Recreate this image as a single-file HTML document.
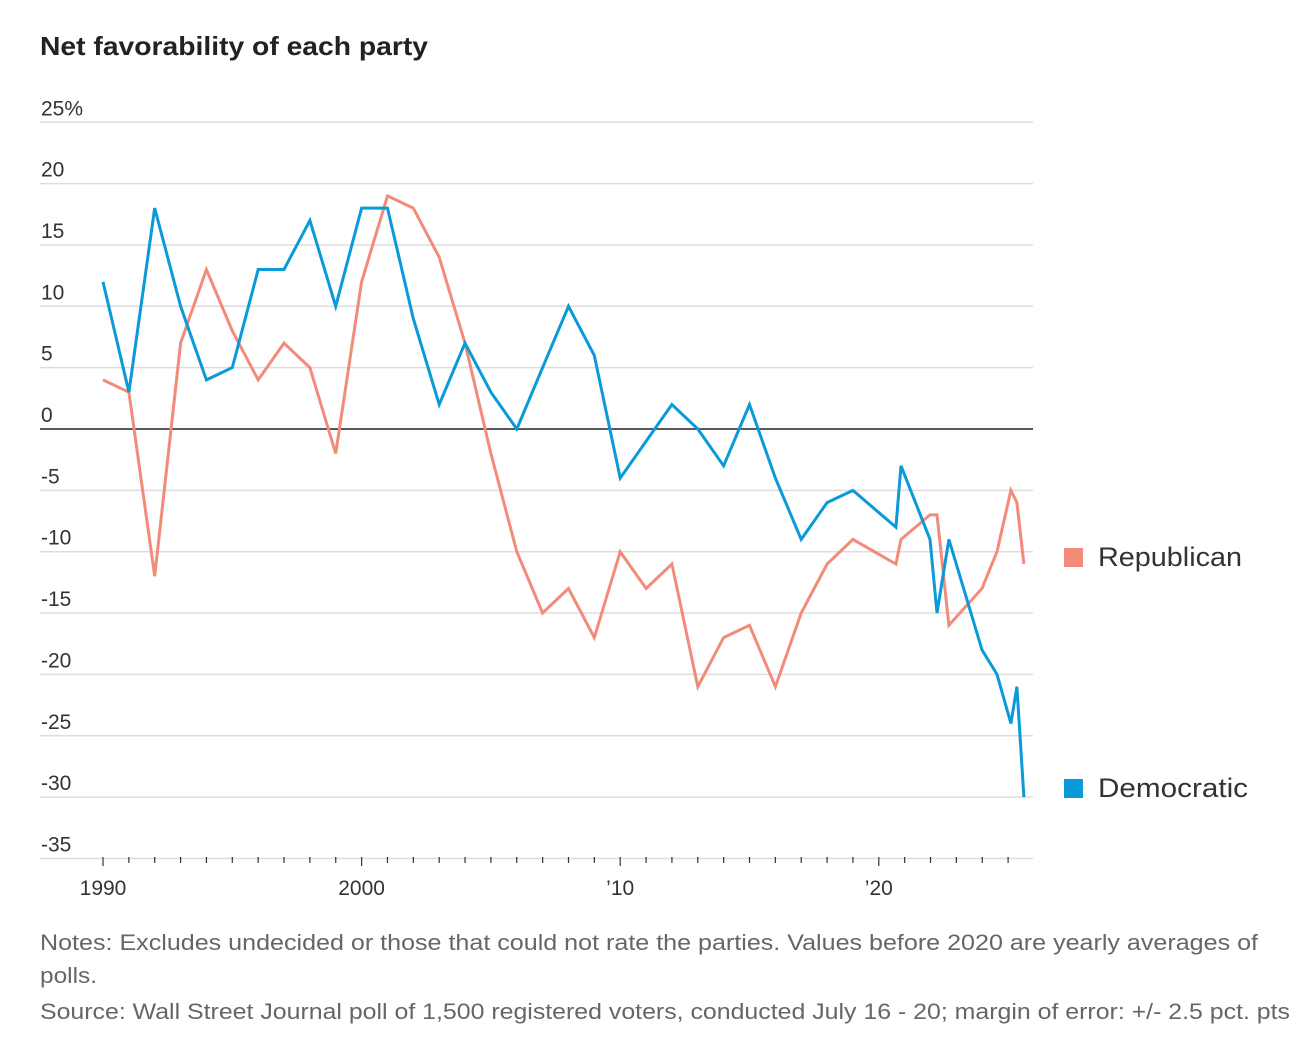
<!DOCTYPE html>
<html><head><meta charset="utf-8"><style>
body{margin:0;background:#fff;width:1314px;height:1038px;overflow:hidden;font-family:"Liberation Sans",sans-serif;}
svg text{font-family:"Liberation Sans",sans-serif;}
</style></head><body>
<svg id="chart" width="1314" height="1038" xmlns="http://www.w3.org/2000/svg">
<text x="40" y="55" font-size="26" font-weight="bold" fill="#222" textLength="388" lengthAdjust="spacingAndGlyphs">Net favorability of each party</text>
<g id="grid"></g><g id="axes"></g><g id="lines"></g>
<g>
<rect x="1064" y="548" width="19" height="19" fill="#f28b79"/>
<text x="1098" y="566" font-size="27" fill="#333" textLength="144" lengthAdjust="spacingAndGlyphs">Republican</text>
<rect x="1064" y="779" width="19" height="19" fill="#0b9ad9"/>
<text x="1098" y="797" font-size="27" fill="#333" textLength="150" lengthAdjust="spacingAndGlyphs">Democratic</text>
</g>
<text font-size="22" fill="#666"><tspan x="40" y="950" textLength="1218" lengthAdjust="spacingAndGlyphs">Notes: Excludes undecided or those that could not rate the parties. Values before 2020 are yearly averages of</tspan><tspan x="40" y="983" textLength="57" lengthAdjust="spacingAndGlyphs">polls.</tspan><tspan x="40" y="1019" textLength="1250" lengthAdjust="spacingAndGlyphs">Source: Wall Street Journal poll of 1,500 registered voters, conducted July 16 - 20; margin of error: +/- 2.5 pct. pts</tspan></text>
</svg>
<script>
const yTicks=[25,20,15,10,5,0,-5,-10,-15,-20,-25,-30,-35];
const yTickLabels=["25%","20","15","10","5","0","-5","-10","-15","-20","-25","-30","-35"];
const xTicks=[1990,2000,2010,2020];
const xTickLabels=["1990","2000","\u201910","\u201920"];
const demYears=[1990,1991,1992,1993,1994,1995,1996,1997,1998,1999,2000,2001,2002,2003,2004,2005,2006,2007,2008,2009,2010,2011,2012,2013,2014,2015,2016,2017,2018,2019,2020.66,2020.86,2021.98,2022.25,2022.71,2023.99,2024.57,2025.11,2025.34,2025.61];
const demValues=[12,3,18,10,4,5,13,13,17,10,18,18,9,2,7,3,0,5,10,6,-4,-1,2,0,-3,2,-4,-9,-6,-5,-8,-3,-9,-15,-9,-18,-20,-24,-21,-30];
const repYears=demYears;
const repValues=[4,3,-12,7,13,8,4,7,5,-2,12,19,18,14,7,-2,-10,-15,-13,-17,-10,-13,-11,-21,-17,-16,-21,-15,-11,-9,-11,-9,-7,-7,-16,-13,-10,-5,-6,-11];
const NS="http://www.w3.org/2000/svg";
const X=y=>103+(y-1990)*25.86;
const Y=v=>429-v*12.27;
function mk(tag,attrs,parent){const e=document.createElementNS(NS,tag);for(const k in attrs)e.setAttribute(k,attrs[k]);parent.appendChild(e);return e;}
const grid=document.getElementById('grid'),axes=document.getElementById('axes'),lines=document.getElementById('lines');
yTicks.forEach((v,i)=>{
 const l=mk('line',{x1:40,x2:1033,y1:Y(v),y2:Y(v),stroke:v===0?'#222':'#ddd','stroke-width':1.5},grid);
 
 
 const t=mk('text',{x:41,y:Y(v)-7,'font-size':21,fill:'#333'},axes);
 t.textContent=yTickLabels[i];
 
 
});
for(let yr=1990;yr<=2025;yr++){
 const tk=mk('line',{x1:X(yr),x2:X(yr),y1:857,y2:yr%10===0?866:863,stroke:'#333','stroke-width':1.2},axes);
 
 
}
xTicks.forEach((yr,i)=>{
 const t=mk('text',{x:X(yr),y:895,'font-size':21,fill:'#333','text-anchor':'middle'},axes);
 t.textContent=xTickLabels[i];
 
 
});
function draw(xs,vs,color,name){
 const d=xs.map((x,i)=>(i?'L':'M')+X(x).toFixed(1)+' '+Y(vs[i]).toFixed(1)).join(' ');
 const p=mk('path',{d:d,fill:'none',stroke:color,'stroke-width':3,'stroke-linejoin':'miter'},lines);
 
 
}
draw(repYears,repValues,'#f28b79','republican-line');
draw(demYears,demValues,'#0b9ad9','democratic-line');
</script>
</body></html>
